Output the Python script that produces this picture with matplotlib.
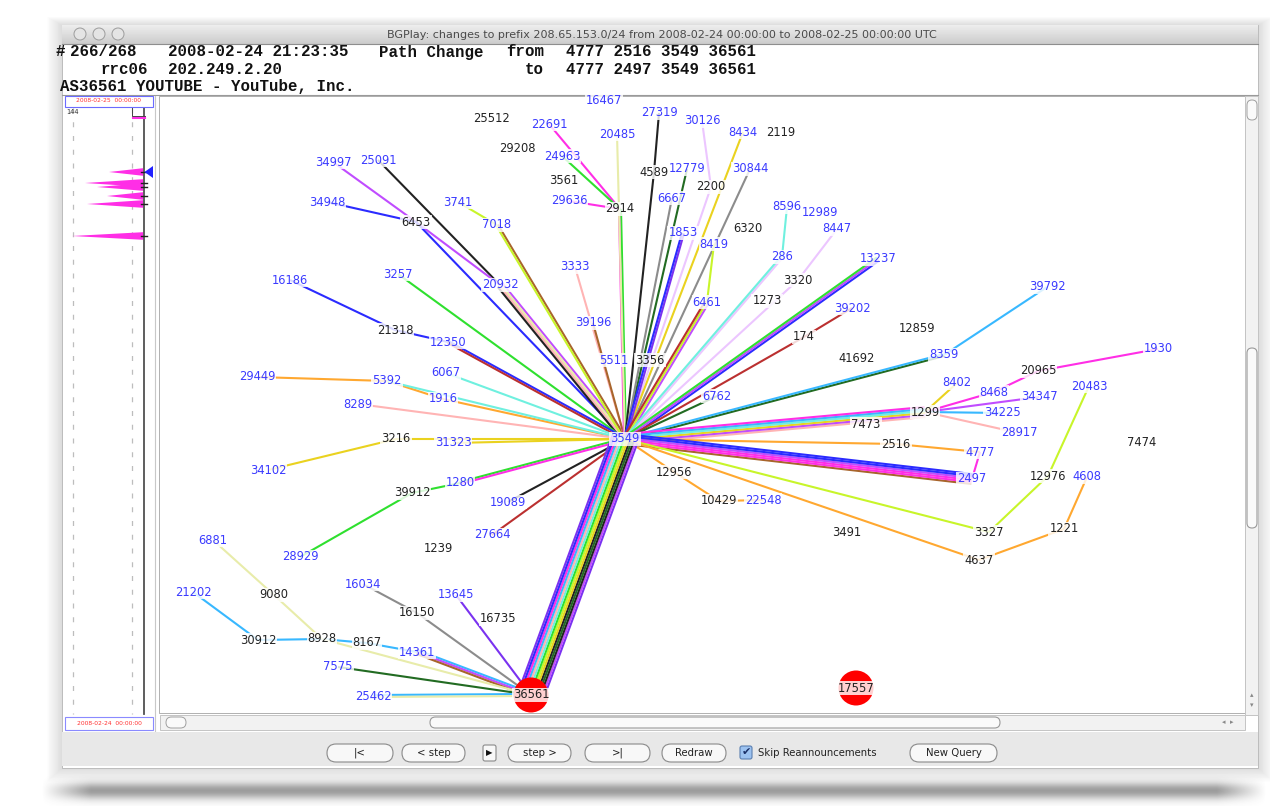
import matplotlib
matplotlib.use("Agg")
import matplotlib.pyplot as plt
from matplotlib.patches import Rectangle, FancyBboxPatch, Circle, Polygon
import numpy as np

# ---------------- data ----------------
node_names = ["16467", "27319", "25512", "22691", "30126", "8434", "2119", "20485", "29208", "24963",
              "34997", "25091", "4589", "12779", "30844", "3561", "2200", "34948", "3741", "29636",
              "2914", "6667", "6453", "7018", "8596", "12989", "6320", "8447", "1853", "8419",
              "286", "13237", "3333", "3257", "16186", "20932", "3320", "1273", "6461", "39792",
              "39202", "39196", "21318", "12859", "174", "12350", "5511", "3356", "41692", "8359",
              "1930", "20965", "29449", "5392", "6067", "8402", "20483", "8468", "34347", "6762",
              "1916", "8289", "1299", "34225", "7473", "28917", "3216", "31323", "3549", "2516",
              "7474", "4777", "34102", "12956", "12976", "4608", "2497", "1280", "39912", "19089",
              "10429", "22548", "3327", "1221", "3491", "27664", "6881", "1239", "28929", "4637",
              "16034", "21202", "9080", "13645", "16150", "16735", "30912", "8928", "8167", "14361",
              "7575", "25462", "36561", "17557"]
node_x = [604, 659, 491, 549, 702, 743, 781, 617, 517, 562,
          333, 378, 654, 687, 750, 564, 711, 327, 458, 569,
          620, 672, 416, 497, 787, 820, 748, 837, 683, 714,
          782, 878, 575, 398, 290, 500, 798, 767, 707, 1047,
          852, 593, 395, 917, 804, 448, 614, 650, 857, 944,
          1158, 1038, 257, 387, 446, 957, 1089, 994, 1039, 717,
          443, 358, 925, 1002, 866, 1019, 396, 453, 625, 896,
          1142, 980, 268, 674, 1048, 1087, 972, 460, 412, 508,
          719, 763, 989, 1064, 847, 492, 213, 438, 300, 979,
          363, 193, 274, 456, 417, 498, 258, 322, 367, 417,
          338, 373, 531, 856]
node_y = [101, 113, 119, 124, 121, 132, 133, 134, 148, 156,
          162, 160, 172, 169, 169, 181, 187, 202, 202, 201,
          209, 198, 222, 225, 207, 212, 229, 229, 233, 244,
          257, 259, 267, 274, 280, 285, 280, 301, 302, 287,
          308, 323, 330, 329, 337, 342, 360, 360, 359, 355,
          349, 371, 377, 381, 373, 383, 386, 392, 397, 396,
          399, 404, 412, 413, 424, 433, 439, 443, 439, 444,
          443, 452, 470, 472, 476, 477, 479, 483, 493, 502,
          501, 500, 532, 529, 533, 535, 540, 549, 557, 560,
          584, 592, 595, 595, 613, 619, 640, 639, 643, 652,
          667, 696, 695, 688]
# 1 = AS label drawn in blue, 0 = black
node_blue = [1, 1, 0, 1, 1, 1, 0, 1, 0, 1,
             1, 1, 0, 1, 1, 0, 0, 1, 1, 1,
             0, 1, 0, 1, 1, 1, 0, 1, 1, 1,
             1, 1, 1, 1, 1, 1, 0, 0, 1, 1,
             1, 1, 0, 0, 0, 1, 1, 0, 0, 1,
             1, 0, 1, 1, 1, 1, 1, 1, 1, 1,
             1, 1, 0, 1, 0, 1, 0, 1, 1, 0,
             0, 1, 1, 0, 0, 1, 1, 1, 0, 1,
             0, 1, 0, 0, 0, 1, 1, 0, 1, 0,
             1, 1, 0, 1, 0, 0, 0, 0, 0, 1,
             1, 1, 0, 0]
origin_nodes = ["36561", "17557"]

edge_from = ["25091", "34997", "6453", "34948", "6453", "20932", "3741", "7018", "3257", "16186",
             "21318", "12350", "29449", "5392", "1916", "5392", "6067", "8289", "34102", "3216",
             "31323", "28929", "39912", "1280", "19089", "27664", "3333", "39196", "22691", "24963",
             "29636", "2914", "20485", "27319", "4589", "30126", "2200", "8434", "12779", "6667",
             "30844", "1853", "8419", "6461", "8596", "286", "8447", "3320", "13237", "39202",
             "174", "39792", "8359", "6762", "1930", "20965", "8468", "8402", "34347", "34225",
             "28917", "1299", "4777", "2516", "4777", "2497", "20483", "12976", "3327", "4608",
             "1221", "4637", "22548", "10429", "12956", "3549", "21202", "30912", "8928", "8167",
             "14361", "6881", "9080", "8928", "16034", "16150", "13645", "7575", "25462"]
edge_to = ["20932", "6453", "20932", "6453", "3549", "3549", "7018", "3549", "3549", "21318",
           "12350", "3549", "5392", "1916", "3549", "3549", "3549", "3549", "3216", "3549",
           "3549", "39912", "1280", "3549", "3549", "3549", "3549", "3549", "2914", "2914",
           "2914", "3549", "3549", "4589", "3549", "2200", "3549", "3549", "3549", "3549",
           "3549", "3549", "6461", "3549", "286", "3549", "3320", "3549", "3549", "174",
           "3549", "8359", "3549", "3549", "20965", "8468", "1299", "1299", "1299", "1299",
           "1299", "3549", "2516", "3549", "2497", "3549", "12976", "3327", "3549", "1221",
           "4637", "3549", "10429", "12956", "3549", "36561", "30912", "8928", "8167", "14361",
           "36561", "9080", "8928", "36561", "16150", "36561", "36561", "36561", "36561"]

# ---------------- styles ----------------
palette = {
    "magenta": "#ff2ee6", "violet": "#c04cff", "blue": "#2b2bff", "black": "#222222",
    "green": "#2fe02f", "yellowgreen": "#c8f52a", "brown": "#a8652c", "gold": "#ead21f",
    "orange": "#ffa830", "pink": "#ffb4b4", "lightyellow": "#e8ecaa", "lightviolet": "#ecc6ff",
    "aquamarine": "#6ff0df", "skyblue": "#38b8ff", "darkred": "#bb3030", "darkgreen": "#226b22",
    "gray": "#8c8c8c", "blueviolet": "#7a32f0",
}
edge_line_colors = [
    ["black"], ["violet"], ["violet"], ["blue"], ["blue"], ["violet", "lightyellow", "pink", "black"],
    ["yellowgreen"], ["brown", "yellowgreen"], ["green"], ["blue"],
    ["blue"], ["blue", "darkred"], ["orange"], ["orange"], ["orange"], ["aquamarine"], ["aquamarine"],
    ["pink"], ["gold"], ["gold"],
    ["gold"], ["green"], ["green"], ["green", "magenta"], ["black"], ["darkred"], ["pink"], ["brown"],
    ["magenta"], ["green"],
    ["magenta"], ["green", "magenta"], ["lightyellow"], ["black"], ["black"], ["lightviolet"],
    ["lightviolet"], ["gold"], ["darkgreen"], ["gray"],
    ["gray"], ["blueviolet", "blue"], ["yellowgreen"], ["violet", "yellowgreen", "darkred"],
    ["aquamarine"], ["lightviolet", "aquamarine"], ["lightviolet"], ["lightviolet"],
    ["blue", "violet", "green"], ["darkred"],
    ["darkred"], ["skyblue"], ["darkgreen", "skyblue"], ["darkgreen"], ["magenta"], ["magenta"],
    ["magenta"], ["gold"], ["violet"], ["skyblue"],
    ["pink"], ["pink", "violet", "gold", "aquamarine", "skyblue", "magenta"], ["orange"], ["orange"],
    ["magenta"], ["brown", "magenta", "magenta", "violet", "blue", "blue"], ["yellowgreen"],
    ["yellowgreen"], ["yellowgreen"], ["orange"],
    ["orange"], ["orange"], ["orange"], ["orange"], ["orange"],
    ["blueviolet", "violet", "black", "darkgreen", "black", "gold", "yellowgreen", "green",
     "aquamarine", "pink", "skyblue", "magenta", "blue", "blueviolet"],
    ["skyblue"], ["skyblue"], ["skyblue"], ["skyblue"],
    ["skyblue", "violet", "brown"], ["lightyellow"], ["lightyellow"], ["lightyellow"], ["gray"],
    ["gray"], ["blueviolet"], ["darkgreen"], ["skyblue", "lightyellow"],
]

# timeline events (left panel)
event_y = [172, 183, 187, 196, 204, 236]
event_len = [34, 58, 46, 36, 56, 71]

title = "BGPlay: changes to prefix 208.65.153.0/24 from 2008-02-24 00:00:00 to 2008-02-25 00:00:00 UTC"
header_tokens = [("#", 55, 52), ("266/268", 70, 52), ("2008-02-24 21:23:35", 168, 52),
                 ("Path Change", 379, 52), ("from", 506, 52), ("4777 2516 3549 36561", 566, 52),
                 ("rrc06", 101, 69), ("202.249.2.20", 168, 69), ("to", 525, 69),
                 ("4777 2497 3549 36561", 566, 69),
                 ("AS36561 YOUTUBE - YouTube, Inc.", 60, 86)]
buttons = [("|<", 327, 66), ("< step", 402, 63), ("step >", 508, 63), (">|", 585, 65),
           ("Redraw", 662, 64), ("New Query", 910, 87)]

# ---------------- figure ----------------
W, H = 1270, 808
fig = plt.figure(figsize=(12.7, 8.08), dpi=100)
fig.patch.set_facecolor("white")
ax = fig.add_axes([0, 0, 1, 1])
ax.axis("off")

# window drop shadow (soft on the sides, stronger underneath)
for s in range(1, 18):
    ax.add_patch(Rectangle((62 - s * 0.9, 25 - s * 0.5), 1196 + 1.8 * s, 743 + s * 1.3,
                           fc="black", ec="none", alpha=0.006, zorder=0))
sh = np.zeros((40, 300, 4))
yy = np.linspace(0, 1, 40)[:, None]
xx = np.linspace(0, 1, 300)[None, :]
prof_y = np.exp(-((yy - 0.62) / 0.22) ** 2)
prof_x = np.clip(np.minimum(xx, 1 - xx) / 0.04, 0, 1)
sh[..., :3] = 0.3
sh[..., 3] = 0.55 * prof_y * prof_x
ax.imshow(sh, extent=(40, 1268, 806, 766), aspect="auto", zorder=0.5, interpolation="bilinear")

# window body
ax.add_patch(Rectangle((62, 25), 1196, 743, fc="white", ec="#b4b4b4", lw=0.6, zorder=1))
grad = np.linspace(0.93, 0.80, 30)[:, None]
ax.imshow(grad, extent=(62, 1258, 44, 25), cmap="gray", vmin=0, vmax=1, aspect="auto", zorder=1.2)
ax.plot([62, 1258], [44, 44], color="#8e8e8e", lw=0.8, zorder=1.3)
for cx in (80, 99, 118):
    ax.add_patch(Circle((cx, 34), 6, fc="#e4e4e4", ec="#9c9c9c", lw=0.7, zorder=1.4))
ax.text(662, 34.5, title, fontsize=8, color="#4a4a4a", ha="center", va="center", zorder=1.5)

hdr_clip = Rectangle((62, 44), 1196, 51, transform=ax.transData)
for txt, x, y in header_tokens:
    t = ax.text(x, y, txt, fontsize=11.3, family="Liberation Mono", weight="bold",
                color="#111111", ha="left", va="center", zorder=2)
    t.set_clip_path(hdr_clip)

# graph canvas + left panel
ax.plot([62, 1258], [95, 95], color="#9a9a9a", lw=0.8, zorder=1.5)
ax.add_patch(Rectangle((159, 96), 1086, 617, fc="white", ec="#b0b0b0", lw=0.7, zorder=1.1))
ax.plot([155, 155], [96, 732], color="#c8c8c8", lw=0.8, zorder=1.5)
for xd in (73, 132):
    ax.plot([xd, xd], [108, 714], color="#bdbdbd", lw=0.9, dashes=(4, 7), zorder=1.5)
ax.plot([144, 144], [106, 714], color="#505050", lw=1.3, zorder=1.6)
ax.add_patch(Rectangle((65, 95.5), 88, 11, fc="white", ec="#6b6bff", lw=0.8, zorder=1.7))
ax.text(109, 101, "2008-02-25  00:00:00", fontsize=4.3, color="#ff3030", ha="center",
        va="center", zorder=1.8)
ax.text(66, 112.5, "144", fontsize=4.8, color="#333333", ha="left", va="center", zorder=1.8)
ax.plot([132, 132, 145], [108, 116, 116], color="#444444", lw=0.7, zorder=1.8)
ax.plot([133, 145], [118, 118], color="#ff2ee6", lw=1.5, zorder=1.8)
for ey, el in zip(event_y, event_len):
    ax.add_patch(Polygon([(143 - el, ey), (143, ey - 3.8), (143, ey + 3.8)], closed=True,
                         fc="#ff2ee6", ec="none", zorder=1.7))
    ax.plot([141, 147], [ey, ey], color="#222222", lw=1.0, zorder=1.8)
ax.add_patch(Polygon([(144.5, event_y[0]), (153, event_y[0] - 6), (153, event_y[0] + 6)],
                     closed=True, fc="#2020ff", ec="none", zorder=1.9))
ax.add_patch(Rectangle((65, 717), 88, 13, fc="white", ec="#8a8aff", lw=0.8, zorder=1.7))
ax.text(109, 723.5, "2008-02-24  00:00:00", fontsize=4.3, color="#ff3030", ha="center",
        va="center", zorder=1.8)

# scrollbars
ax.add_patch(Rectangle((160, 715), 1085, 15, fc="#f2f2f2", ec="#c4c4c4", lw=0.7, zorder=1.5))
ax.add_patch(FancyBboxPatch((166, 717), 20, 11, boxstyle="round,pad=0,rounding_size=5.5",
                            fc="#fafafa", ec="#a0a0a0", lw=0.7, zorder=1.6))
ax.add_patch(FancyBboxPatch((430, 717), 570, 11, boxstyle="round,pad=0,rounding_size=5.5",
                            fc="#fafafa", ec="#9a9a9a", lw=0.8, zorder=1.6))
ax.text(1228, 722.5, "\u25c2  \u25b8", fontsize=5, color="#888888", ha="center", va="center",
        zorder=1.7)
ax.add_patch(Rectangle((1245, 96), 13, 619, fc="#f2f2f2", ec="#c4c4c4", lw=0.7, zorder=1.5))
ax.add_patch(FancyBboxPatch((1247, 100), 10, 20, boxstyle="round,pad=0,rounding_size=5",
                            fc="#fafafa", ec="#a0a0a0", lw=0.7, zorder=1.6))
ax.add_patch(FancyBboxPatch((1247, 348), 10, 180, boxstyle="round,pad=0,rounding_size=5",
                            fc="#fafafa", ec="#9a9a9a", lw=0.8, zorder=1.6))
ax.text(1252, 695, "\u25b4", fontsize=5, color="#888888", ha="center", va="center", zorder=1.7)
ax.text(1252, 705, "\u25be", fontsize=5, color="#888888", ha="center", va="center", zorder=1.7)

# button bar
ax.add_patch(Rectangle((62, 732), 1196, 34, fc="#e8e8e8", ec="none", zorder=1.5))
for lab, x0, w in buttons:
    ax.add_patch(FancyBboxPatch((x0, 744), w, 18, boxstyle="round,pad=0,rounding_size=9",
                                fc="#f8f8f8", ec="#8a8a8a", lw=0.8, zorder=1.6))
    ax.text(x0 + w / 2, 753, lab, fontsize=7.3, color="#222222", ha="center", va="center",
            zorder=1.7)
ax.add_patch(FancyBboxPatch((483, 745), 13, 16, boxstyle="round,pad=0,rounding_size=2",
                            fc="#f8f8f8", ec="#8a8a8a", lw=0.8, zorder=1.6))
ax.text(489.5, 753, "\u25b6", fontsize=6, color="#111111", ha="center", va="center", zorder=1.7)
ax.add_patch(FancyBboxPatch((740, 746), 12, 13, boxstyle="round,pad=0,rounding_size=2",
                            fc="#9cc2f0", ec="#5a7fb0", lw=0.8, zorder=1.6))
ax.text(746.5, 751.5, "\u2714", fontsize=8, color="#1a2f66", ha="center", va="center", zorder=1.7)
ax.text(758, 753, "Skip Reannouncements", fontsize=7.3, color="#222222", ha="left", va="center",
        zorder=1.7)

# ---------------- graph ----------------
clip = Rectangle((160, 96), 1082, 616, transform=ax.transData)
pos = {n: (x, y) for n, x, y in zip(node_names, node_x, node_y)}
spacing = 2.0
for a, b, cols in zip(edge_from, edge_to, edge_line_colors):
    (x0, y0), (x1, y1) = pos[a], pos[b]
    dx, dy = x1 - x0, y1 - y0
    L = np.hypot(dx, dy)
    nx, ny = -dy / L, dx / L
    k = len(cols)
    for i, c in enumerate(cols):
        off = (i - (k - 1) / 2) * spacing
        ln, = ax.plot([x0 + nx * off, x1 + nx * off], [y0 + ny * off, y1 + ny * off],
                      color=palette[c], lw=1.5, solid_capstyle="butt", zorder=3)
        ln.set_clip_path(clip)

for n in origin_nodes:
    ax.add_patch(Circle(pos[n], 17.5, fc="#ff0000", ec="none", zorder=4))

for n, x, y, blue in zip(node_names, node_x, node_y, node_blue):
    ax.text(x, y, n, fontsize=8.3, color="#3a3aff" if blue else "#222222", ha="center",
            va="center", zorder=5,
            bbox=dict(boxstyle="square,pad=0.08", fc="white", ec="none", alpha=0.82))

ax.set_xlim(0, W)
ax.set_ylim(H, 0)
fig.savefig("out.png", dpi=100, facecolor="white")
